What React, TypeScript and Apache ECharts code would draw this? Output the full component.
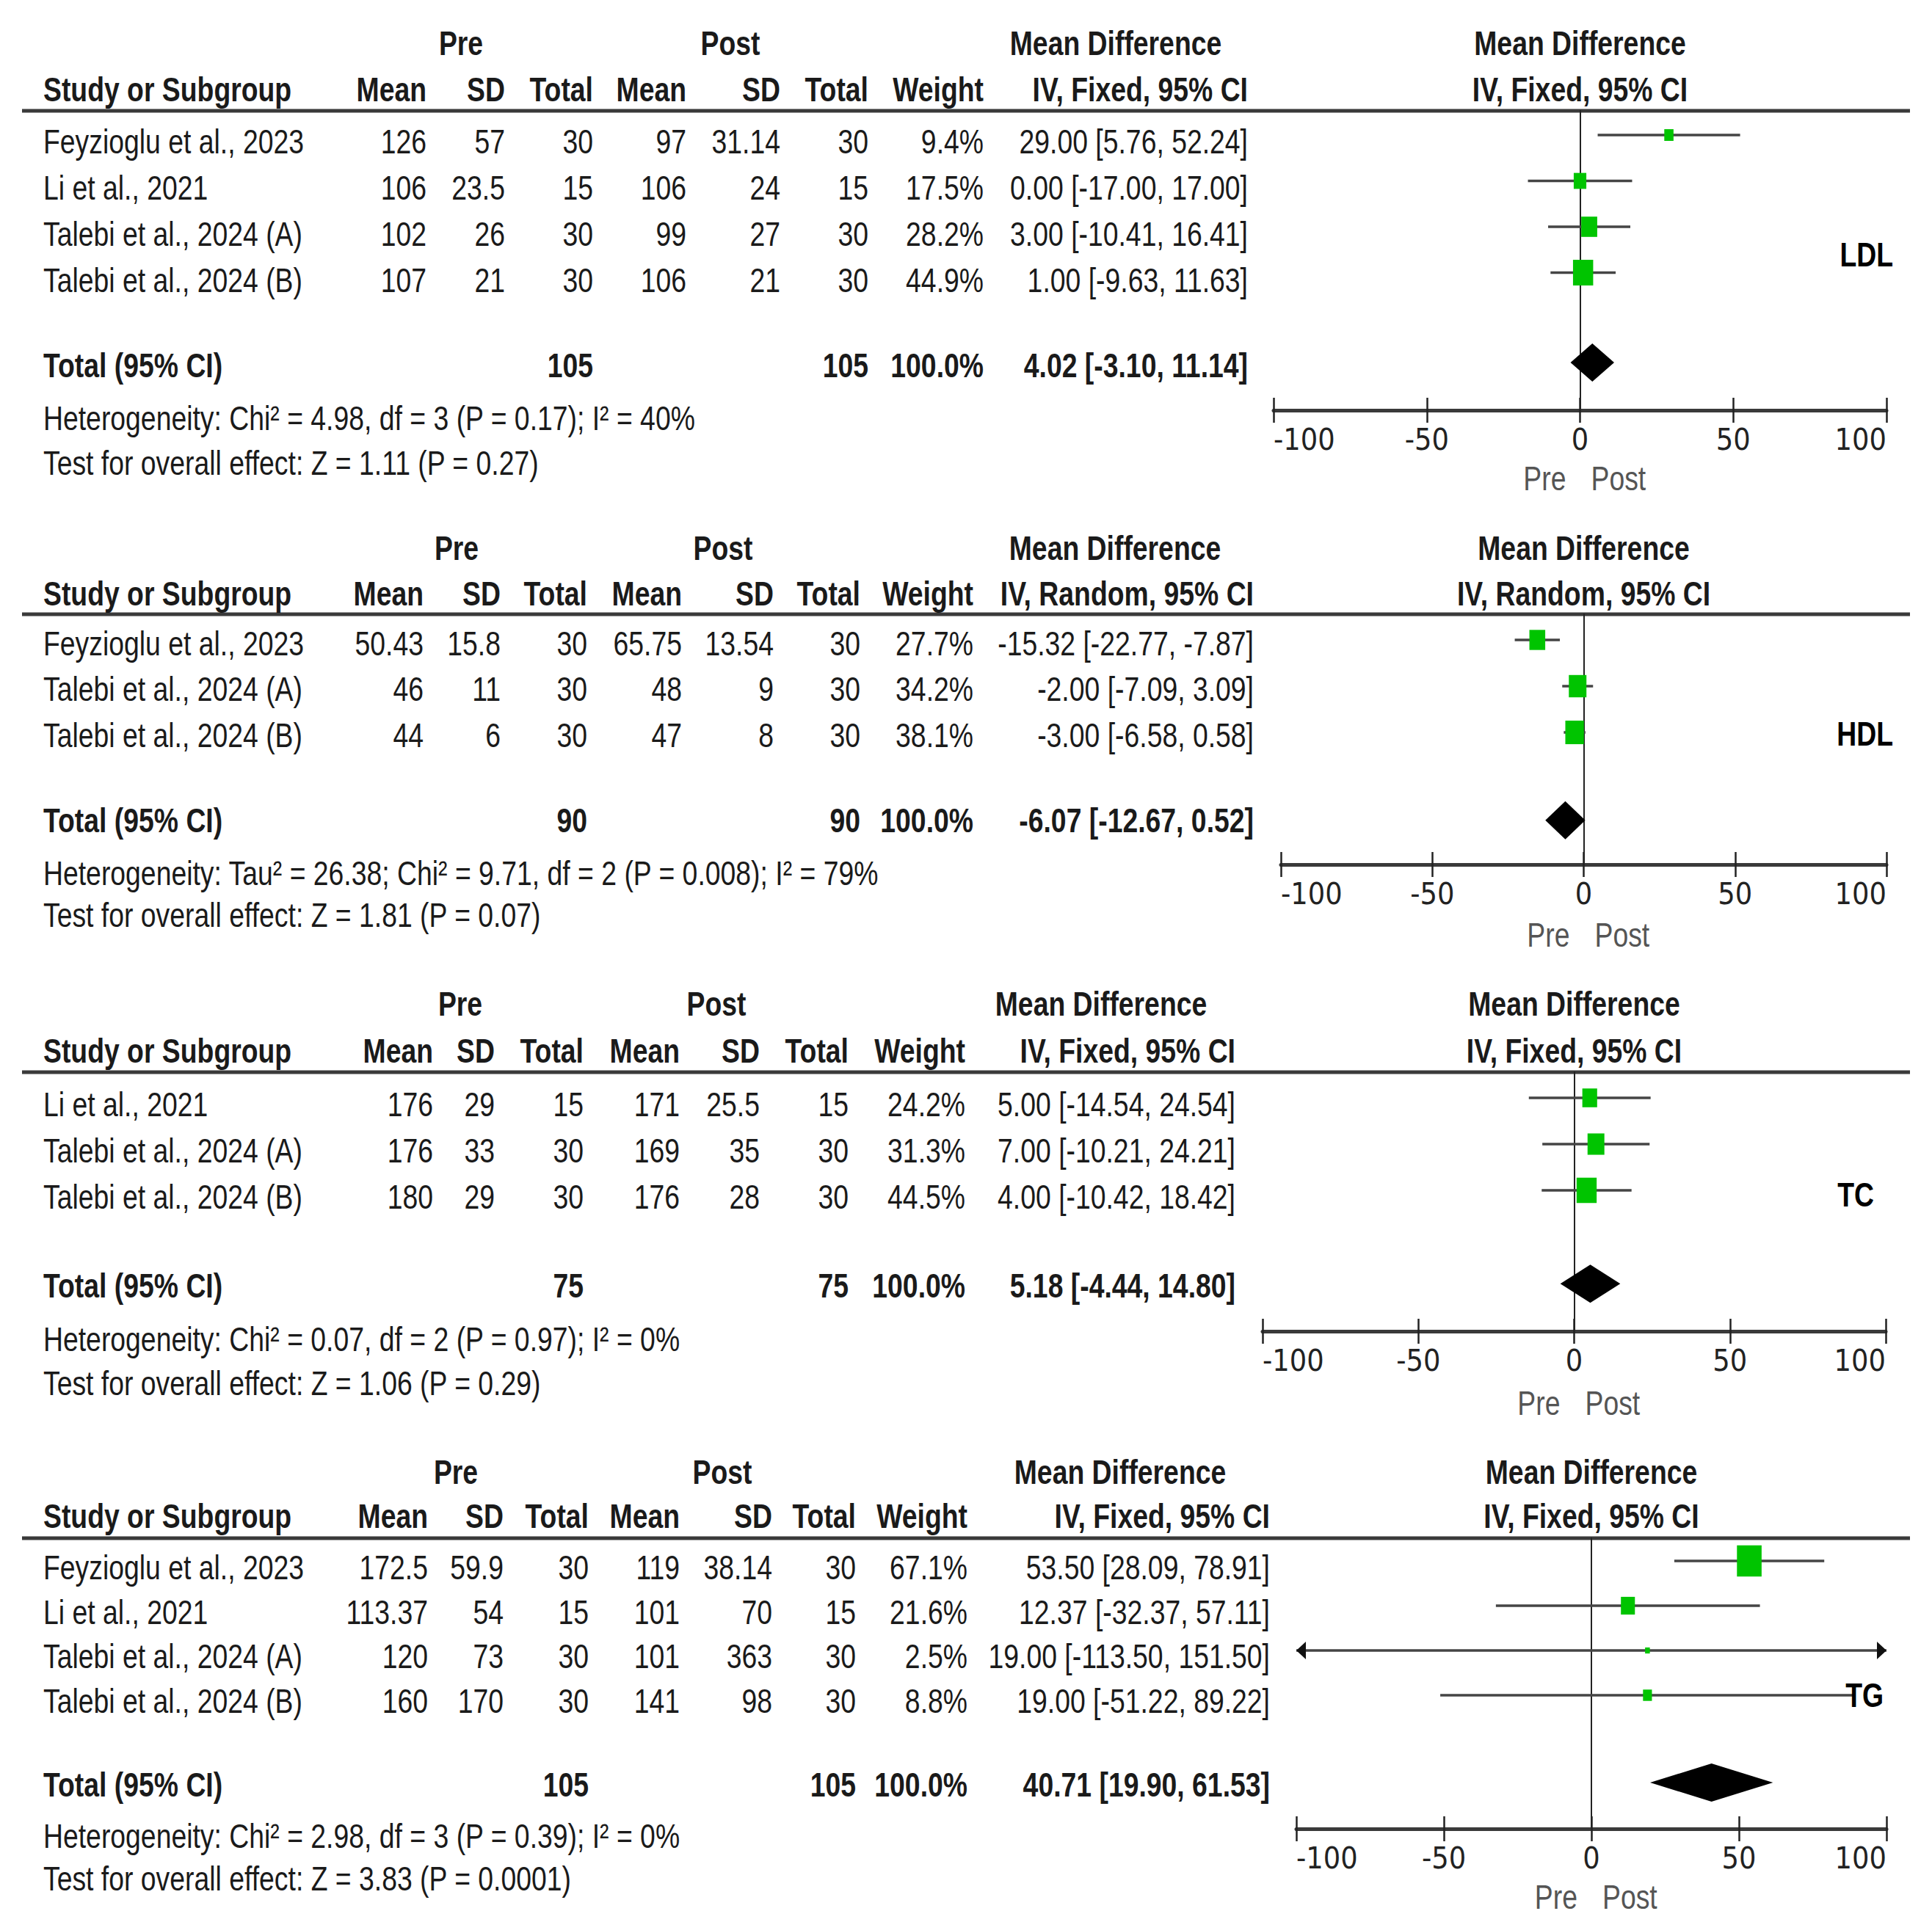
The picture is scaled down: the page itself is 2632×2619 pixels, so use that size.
import React, { useEffect, useRef } from 'react';
import * as echarts from 'echarts';

// ---------------- DATA ----------------
const panelNames = ['LDL', 'HDL', 'TC', 'TG'];
const panelMethods = ['IV, Fixed, 95% CI', 'IV, Random, 95% CI', 'IV, Fixed, 95% CI', 'IV, Fixed, 95% CI'];
const xTickMin = -100;
const xTickMax = 100;
const xTickStep = 50;

// LDL
const ldlStudies = ['Feyzioglu et al., 2023', 'Li et al., 2021', 'Talebi et al., 2024 (A)', 'Talebi et al., 2024 (B)'];
const ldlPreMean = [126, 106, 102, 107];
const ldlPreSD = [57, 23.5, 26, 21];
const ldlPreN = [30, 15, 30, 30];
const ldlPostMean = [97, 106, 99, 106];
const ldlPostSD = [31.14, 24, 27, 21];
const ldlPostN = [30, 15, 30, 30];
const ldlWeight = [9.4, 17.5, 28.2, 44.9];
const ldlMD = [29.0, 0.0, 3.0, 1.0];
const ldlLow = [5.76, -17.0, -10.41, -9.63];
const ldlHigh = [52.24, 17.0, 16.41, 11.63];
const ldlTotalN = [105, 105];
const ldlPooled = [4.02, -3.1, 11.14];
const ldlHet = 'Heterogeneity: Chi² = 4.98, df = 3 (P = 0.17); I² = 40%';
const ldlTest = 'Test for overall effect: Z = 1.11 (P = 0.27)';

// HDL
const hdlStudies = ['Feyzioglu et al., 2023', 'Talebi et al., 2024 (A)', 'Talebi et al., 2024 (B)'];
const hdlPreMean = [50.43, 46, 44];
const hdlPreSD = [15.8, 11, 6];
const hdlPreN = [30, 30, 30];
const hdlPostMean = [65.75, 48, 47];
const hdlPostSD = [13.54, 9, 8];
const hdlPostN = [30, 30, 30];
const hdlWeight = [27.7, 34.2, 38.1];
const hdlMD = [-15.32, -2.0, -3.0];
const hdlLow = [-22.77, -7.09, -6.58];
const hdlHigh = [-7.87, 3.09, 0.58];
const hdlTotalN = [90, 90];
const hdlPooled = [-6.07, -12.67, 0.52];
const hdlHet = 'Heterogeneity: Tau² = 26.38; Chi² = 9.71, df = 2 (P = 0.008); I² = 79%';
const hdlTest = 'Test for overall effect: Z = 1.81 (P = 0.07)';

// TC
const tcStudies = ['Li et al., 2021', 'Talebi et al., 2024 (A)', 'Talebi et al., 2024 (B)'];
const tcPreMean = [176, 176, 180];
const tcPreSD = [29, 33, 29];
const tcPreN = [15, 30, 30];
const tcPostMean = [171, 169, 176];
const tcPostSD = [25.5, 35, 28];
const tcPostN = [15, 30, 30];
const tcWeight = [24.2, 31.3, 44.5];
const tcMD = [5.0, 7.0, 4.0];
const tcLow = [-14.54, -10.21, -10.42];
const tcHigh = [24.54, 24.21, 18.42];
const tcTotalN = [75, 75];
const tcPooled = [5.18, -4.44, 14.8];
const tcHet = 'Heterogeneity: Chi² = 0.07, df = 2 (P = 0.97); I² = 0%';
const tcTest = 'Test for overall effect: Z = 1.06 (P = 0.29)';

// TG
const tgStudies = ['Feyzioglu et al., 2023', 'Li et al., 2021', 'Talebi et al., 2024 (A)', 'Talebi et al., 2024 (B)'];
const tgPreMean = [172.5, 113.37, 120, 160];
const tgPreSD = [59.9, 54, 73, 170];
const tgPreN = [30, 15, 30, 30];
const tgPostMean = [119, 101, 101, 141];
const tgPostSD = [38.14, 70, 363, 98];
const tgPostN = [30, 15, 30, 30];
const tgWeight = [67.1, 21.6, 2.5, 8.8];
const tgMD = [53.5, 12.37, 19.0, 19.0];
const tgLow = [28.09, -32.37, -113.5, -51.22];
const tgHigh = [78.91, 57.11, 151.5, 89.22];
const tgTotalN = [105, 105];
const tgPooled = [40.71, 19.9, 61.53];
const tgHet = 'Heterogeneity: Chi² = 2.98, df = 3 (P = 0.39); I² = 0%';
const tgTest = 'Test for overall effect: Z = 3.83 (P = 0.0001)';

// ---------------- LAYOUT (pixels) ----------------
const LAYOUT = [
  { h1: 59, h2: 122, line: 151, rows: [193, 256, 319, 382], total: 498, het: 570, test: 631,
    m0: 184, step: 62.5, totalIdx: 4.96, axis: 559, left: 1735, right: 2570, prepost: 652,
    cols: [581, 688, 808, 935, 1063, 1183, 1340, 1700], pre: 628, post: 995, mdTable: 1520, tagX: 2579, tagY: 347 },
  { h1: 747, h2: 809, line: 837, rows: [877, 939, 1002], total: 1118, het: 1190, test: 1247,
    m0: 872, step: 63, totalIdx: 3.9, axis: 1178, left: 1745, right: 2570, prepost: 1274,
    cols: [577, 682, 800, 929, 1054, 1172, 1326, 1708], pre: 622, post: 985, mdTable: 1519, tagX: 2579, tagY: 1000 },
  { h1: 1368, h2: 1432, line: 1461, rows: [1505, 1568, 1631], total: 1752, het: 1825, test: 1885,
    m0: 1496, step: 63, totalIdx: 4.02, axis: 1814, left: 1720, right: 2569, prepost: 1912,
    cols: [590, 674, 795, 926, 1035, 1156, 1315, 1683], pre: 627, post: 976, mdTable: 1500, tagX: 2553, tagY: 1628 },
  { h1: 2006, h2: 2066, line: 2096, rows: [2136, 2197, 2257, 2318], total: 2432, het: 2502, test: 2560,
    m0: 2127, step: 61, totalIdx: 4.95, axis: 2492, left: 1766, right: 2570, prepost: 2585,
    cols: [583, 686, 802, 926, 1052, 1166, 1318, 1730], pre: 621, post: 984, mdTable: 1526, tagX: 2566, tagY: 2310 },
];

const W = 2632;
const H = 2619;
const FONT = "'Liberation Sans', Arial, sans-serif";
const NARROW = "'Liberation Sans Narrow', 'Arial Narrow', 'DejaVu Sans Condensed', sans-serif";
const FS = 47;
const SX = 0.795;
const TXT = '#1a1a1a';
const GREEN = '#00c400';

const PANELS = [
  { studies: ldlStudies, preMean: ldlPreMean, preSD: ldlPreSD, preN: ldlPreN, postMean: ldlPostMean, postSD: ldlPostSD, postN: ldlPostN, weight: ldlWeight, md: ldlMD, lo: ldlLow, hi: ldlHigh, totalN: ldlTotalN, pooled: ldlPooled, het: ldlHet, test: ldlTest },
  { studies: hdlStudies, preMean: hdlPreMean, preSD: hdlPreSD, preN: hdlPreN, postMean: hdlPostMean, postSD: hdlPostSD, postN: hdlPostN, weight: hdlWeight, md: hdlMD, lo: hdlLow, hi: hdlHigh, totalN: hdlTotalN, pooled: hdlPooled, het: hdlHet, test: hdlTest },
  { studies: tcStudies, preMean: tcPreMean, preSD: tcPreSD, preN: tcPreN, postMean: tcPostMean, postSD: tcPostSD, postN: tcPostN, weight: tcWeight, md: tcMD, lo: tcLow, hi: tcHigh, totalN: tcTotalN, pooled: tcPooled, het: tcHet, test: tcTest },
  { studies: tgStudies, preMean: tgPreMean, preSD: tgPreSD, preN: tgPreN, postMean: tgPostMean, postSD: tgPostSD, postN: tgPostN, weight: tgWeight, md: tgMD, lo: tgLow, hi: tgHigh, totalN: tgTotalN, pooled: tgPooled, het: tgHet, test: tgTest },
];

function txt(text: string, x: number, y: number, o: any = {}) {
  const align = o.align || 'left';
  return {
    type: 'text',
    x,
    y,
    scaleX: o.sx || SX,
    silent: true,
    z: 10,
    style: {
      text,
      fontSize: o.size || FS,
      fontFamily: FONT,
      fontWeight: o.bold ? 'bold' : 'normal',
      fill: o.color || TXT,
      align,
      textAlign: align,
      verticalAlign: 'middle',
      textVerticalAlign: 'middle',
    },
  };
}

const ciText = (m: number, l: number, h: number) => `${m.toFixed(2)} [${l.toFixed(2)}, ${h.toFixed(2)}]`;

function renderStudy(params: any, api: any) {
  const md = api.value(0);
  const lo = api.value(1);
  const hi = api.value(2);
  const row = api.value(3);
  const w = api.value(4);
  const loC = Math.max(lo, xTickMin);
  const hiC = Math.min(hi, xTickMax);
  const pL = api.coord([loC, row]);
  const pH = api.coord([hiC, row]);
  const pM = api.coord([md, row]);
  const children: any[] = [
    { type: 'line', shape: { x1: pL[0], y1: pL[1], x2: pH[0], y2: pH[1] }, style: { stroke: '#454545', lineWidth: 3.5 } },
  ];
  if (lo < xTickMin) {
    children.push({ type: 'polygon', shape: { points: [[pL[0], pL[1]], [pL[0] + 13, pL[1] - 12], [pL[0] + 13, pL[1] + 12]] }, style: { fill: '#111' } });
  }
  if (hi > xTickMax) {
    children.push({ type: 'polygon', shape: { points: [[pH[0], pH[1]], [pH[0] - 13, pH[1] - 12], [pH[0] - 13, pH[1] + 12]] }, style: { fill: '#111' } });
  }
  const s = Math.sqrt(w);
  const bw = 4.1 * s;
  const bh = 5.2 * s;
  children.push({ type: 'rect', shape: { x: pM[0] - bw / 2, y: pM[1] - bh / 2, width: bw, height: bh }, style: { fill: GREEN } });
  return { type: 'group', children };
}

function renderPooled(params: any, api: any) {
  const est = api.value(0);
  const lo = api.value(1);
  const hi = api.value(2);
  const row = api.value(3);
  const pE = api.coord([est, row]);
  const pL = api.coord([lo, row]);
  const pH = api.coord([hi, row]);
  const h = 26;
  return {
    type: 'polygon',
    shape: { points: [[pL[0], pE[1]], [pE[0], pE[1] - h], [pH[0], pE[1]], [pE[0], pE[1] + h]] },
    style: { fill: '#000' },
  };
}

function buildOption() {
  const grid: any[] = [];
  const xAxis: any[] = [];
  const yAxis: any[] = [];
  const series: any[] = [];
  const graphic: any[] = [];

  PANELS.forEach((p, i) => {
    const L = LAYOUT[i];
    const zeroX = (L.left + L.right) / 2;
    grid.push({ left: L.left, width: L.right - L.left, top: L.line, height: L.axis - L.line, containLabel: false });
    const axisBase = { gridIndex: i, type: 'value', min: xTickMin, max: xTickMax, interval: xTickStep, splitLine: { show: false }, position: 'bottom' };
    xAxis.push({
      ...axisBase,
      axisLine: { show: true, onZero: false, lineStyle: { color: '#3a3a3a', width: 5 } },
      axisTick: { show: true, inside: false, length: 17, lineStyle: { color: '#222', width: 2.5 } },
      axisLabel: { show: true, fontSize: 41, fontFamily: NARROW, color: '#222', margin: 19, alignMinLabel: 'left', alignMaxLabel: 'right' },
    });
    xAxis.push({
      ...axisBase,
      axisLine: { show: false, onZero: false },
      axisTick: { show: true, inside: true, length: 17, lineStyle: { color: '#222', width: 2.5 } },
      axisLabel: { show: false },
    });
    yAxis.push({
      gridIndex: i,
      type: 'value',
      inverse: true,
      min: (L.line - L.m0) / L.step,
      max: (L.axis - L.m0) / L.step,
      axisLine: { show: true, onZero: true, lineStyle: { color: '#222', width: 2 } },
      axisTick: { show: false },
      axisLabel: { show: false },
      splitLine: { show: false },
    });
    series.push({
      type: 'custom',
      name: panelNames[i] + ' studies',
      xAxisIndex: i * 2,
      yAxisIndex: i,
      renderItem: renderStudy,
      encode: { x: [0, 1, 2], y: 3 },
      data: p.studies.map((_, k) => [p.md[k], p.lo[k], p.hi[k], k, p.weight[k]]),
      z: 5,
    });
    series.push({
      type: 'custom',
      name: panelNames[i] + ' total',
      xAxisIndex: i * 2,
      yAxisIndex: i,
      renderItem: renderPooled,
      encode: { x: [0, 1, 2], y: 3 },
      data: [[p.pooled[0], p.pooled[1], p.pooled[2], L.totalIdx]],
      z: 5,
    });

    // header line
    graphic.push({ type: 'line', silent: true, shape: { x1: 30, y1: L.line, x2: 2602, y2: L.line }, style: { stroke: '#3a3a3a', lineWidth: 5 } });

    // header row 1
    graphic.push(txt('Pre', L.pre, L.h1, { bold: true, align: 'center' }));
    graphic.push(txt('Post', L.post, L.h1, { bold: true, align: 'center' }));
    graphic.push(txt('Mean Difference', L.mdTable, L.h1, { bold: true, align: 'center' }));
    graphic.push(txt('Mean Difference', zeroX, L.h1, { bold: true, align: 'center' }));
    // header row 2
    graphic.push(txt('Study or Subgroup', 59, L.h2, { bold: true }));
    const heads = ['Mean', 'SD', 'Total', 'Mean', 'SD', 'Total', 'Weight', panelMethods[i]];
    heads.forEach((h, k) => graphic.push(txt(h, L.cols[k], L.h2, { bold: true, align: 'right' })));
    graphic.push(txt(panelMethods[i], zeroX, L.h2, { bold: true, align: 'center' }));

    // study rows
    p.studies.forEach((s, k) => {
      const y = L.rows[k];
      graphic.push(txt(s, 59, y));
      const vals = [
        String(p.preMean[k]), String(p.preSD[k]), String(p.preN[k]),
        String(p.postMean[k]), String(p.postSD[k]), String(p.postN[k]),
        p.weight[k].toFixed(1) + '%', ciText(p.md[k], p.lo[k], p.hi[k]),
      ];
      vals.forEach((v, c) => graphic.push(txt(v, L.cols[c], y, { align: 'right' })));
    });

    // total row
    const totalW = p.weight.reduce((a, b) => a + b, 0);
    graphic.push(txt('Total (95% CI)', 59, L.total, { bold: true }));
    graphic.push(txt(String(p.totalN[0]), L.cols[2], L.total, { bold: true, align: 'right' }));
    graphic.push(txt(String(p.totalN[1]), L.cols[5], L.total, { bold: true, align: 'right' }));
    graphic.push(txt(totalW.toFixed(1) + '%', L.cols[6], L.total, { bold: true, align: 'right' }));
    graphic.push(txt(ciText(p.pooled[0], p.pooled[1], p.pooled[2]), L.cols[7], L.total, { bold: true, align: 'right' }));

    graphic.push(txt(p.het, 59, L.het));
    graphic.push(txt(p.test, 59, L.test));

    graphic.push(txt('Pre', zeroX - 19, L.prepost, { align: 'right', color: '#555' }));
    graphic.push(txt('Post', zeroX + 15, L.prepost, { align: 'left', color: '#555' }));

    graphic.push(txt(panelNames[i], L.tagX, L.tagY, { bold: true, align: 'right', color: '#000' }));
  });

  return {
    animation: false,
    backgroundColor: '#ffffff',
    grid,
    xAxis,
    yAxis,
    series,
    graphic,
  };
}

export default function App() {
  const ref = useRef<HTMLDivElement>(null);
  useEffect(() => {
    document.body.style.margin = '0';
    if (!ref.current) return;
    const chart = echarts.init(ref.current, undefined, { renderer: 'svg' });
    chart.setOption(buildOption() as any);
    return () => chart.dispose();
  }, []);
  return <div ref={ref} style={{ width: W, height: H, background: '#fff' }} />;
}
